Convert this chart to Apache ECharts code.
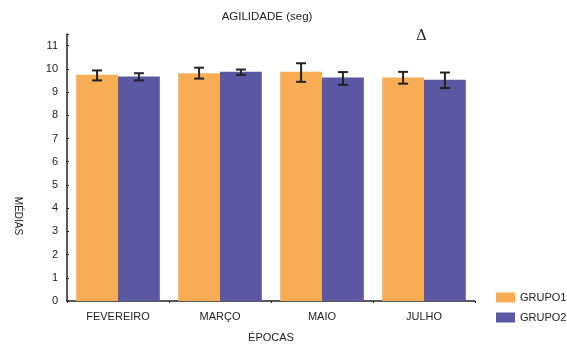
<!DOCTYPE html>
<html><head><meta charset="utf-8">
<script src="https://cdn.jsdelivr.net/npm/echarts@6/dist/echarts.min.js"></script>
<style>html,body{margin:0;padding:0;background:#fff}#c{width:567px;height:348px}</style>
</head><body><div id="c"></div>
<script>
const categories = ['FEVEREIRO', 'MARÇO', 'MAIO', 'JULHO'];
const grupo1 = [9.74, 9.81, 9.87, 9.63];
const grupo2 = [9.67, 9.87, 9.63, 9.53];
const grupo1Low = [9.50, 9.58, 9.44, 9.36];
const grupo1High = [9.93, 10.05, 10.24, 9.87];
const grupo2Low = [9.50, 9.74, 9.31, 9.17];
const grupo2High = [9.81, 9.97, 9.86, 9.84];

const chart = echarts.init(document.getElementById('c'));
const font = 'Liberation Sans, Arial, sans-serif';
const catGap = 0.18;

function errSeries(low, high, idx) {
  return {
    type: 'custom',
    z: 10,
    data: categories.map((c, i) => [i, low[i], high[i]]),
    renderItem: function (params, api) {
      const i = api.value(0);
      const pLow = api.coord([i, api.value(1)]);
      const pHigh = api.coord([i, api.value(2)]);
      const bw = api.size([1, 0])[0];
      const barW = bw * (1 - catGap) / 2;
      const x = pLow[0] + (idx === 0 ? -barW / 2 : barW / 2);
      const hw = 5;
      const style = { stroke: '#222', lineWidth: 2, fill: null };
      return {
        type: 'group',
        children: [
          { type: 'line', shape: { x1: x, y1: pLow[1], x2: x, y2: pHigh[1] }, style },
          { type: 'line', shape: { x1: x - hw, y1: pLow[1], x2: x + hw, y2: pLow[1] }, style },
          { type: 'line', shape: { x1: x - hw, y1: pHigh[1], x2: x + hw, y2: pHigh[1] }, style }
        ]
      };
    }
  };
}

chart.setOption({
  animation: false,
  textStyle: { fontFamily: font },
  title: {
    text: 'AGILIDADE (seg)', left: 262, top: 6, textAlign: 'center',
    textStyle: { fontSize: 11.5, fontWeight: 'normal', color: '#222', fontFamily: font }
  },
  legend: {
    orient: 'vertical', left: 491, top: 287, itemWidth: 19, itemHeight: 10, itemGap: 9,
    icon: 'rect',
    textStyle: { fontSize: 11, color: '#222', fontFamily: font, padding: [0, 0, 0, 0] },
    data: ['GRUPO1', 'GRUPO2']
  },
  grid: { left: 67, top: 34, right: 92, bottom: 46 },
  xAxis: {
    type: 'category', data: categories,
    name: 'ÉPOCAS', nameLocation: 'middle', nameGap: 31,
    nameTextStyle: { fontSize: 11, color: '#222', fontFamily: font },
    axisLine: { lineStyle: { color: '#222', width: 1.5 } },
    axisTick: { show: true, length: 2, lineStyle: { color: '#222' } },
    axisLabel: { fontSize: 11, color: '#222', margin: 10 }
  },
  yAxis: {
    type: 'value', min: 0, max: 11.5, interval: 1,
    axisLine: { show: true, lineStyle: { color: '#222', width: 1.5 } },
    axisTick: { show: true, inside: true, length: 2, lineStyle: { color: '#222' } },
    splitLine: { show: false },
    axisLabel: {
      fontSize: 11, color: '#222', margin: 9,
      formatter: v => (Number.isInteger(v) ? String(v) : '')
    }
  },
  series: [
    { name: 'GRUPO1', type: 'bar', data: grupo1, barGap: '0%', barCategoryGap: '18%',
      itemStyle: { color: '#F8AC54' } },
    { name: 'GRUPO2', type: 'bar', data: grupo2,
      itemStyle: { color: '#5B57A3' } },
    errSeries(grupo1Low, grupo1High, 0),
    errSeries(grupo2Low, grupo2High, 1)
  ],
  graphic: [
    { type: 'text', x: 17.5, y: 216, rotation: -Math.PI / 2,
      style: { text: 'MÉDIAS', font: '10px "Liberation Sans", Arial, sans-serif', fill: '#222',
        align: 'center', verticalAlign: 'middle' } },
    { type: 'text', left: 416, top: 29,
      style: { text: 'Δ', font: '15px "DejaVu Serif", "Liberation Serif", serif', fill: '#222' } }
  ]
});
</script></body></html>
